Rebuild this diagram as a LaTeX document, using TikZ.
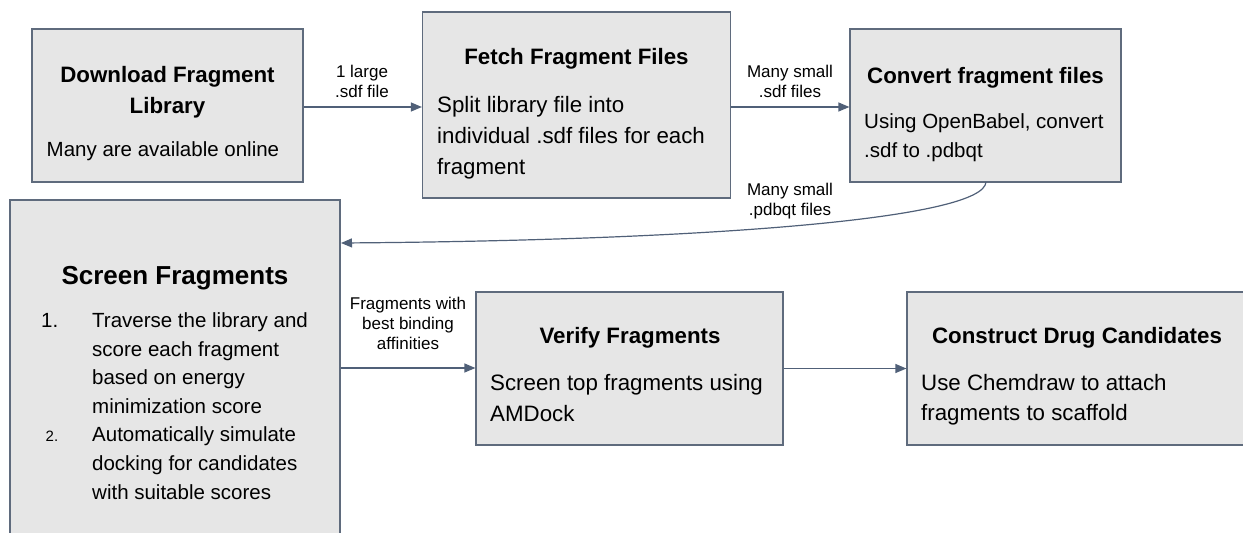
\documentclass[tikz,border=0pt]{standalone}
\usepackage{fontspec}
\setmainfont{Liberation Sans}
\usetikzlibrary{arrows.meta}
\definecolor{boxfill}{RGB}{230,230,230}
\definecolor{boxline}{RGB}{95,107,125}
\definecolor{arrline}{RGB}{80,96,120}
\tikzset{
  procbox/.style={draw=boxline, fill=boxfill, line width=1.2pt, inner sep=0pt},
  ttl/.style={anchor=base, inner sep=0pt, font=\bfseries\fontsize{22.3}{26}\selectfont},
  bodytxt/.style={anchor=base west, inner sep=0pt, font=\fontsize{20.5}{24}\selectfont},
  bigbody/.style={anchor=base west, inner sep=0pt, font=\fontsize{22.3}{26}\selectfont},
  lbl/.style={anchor=base, inner sep=0pt, font=\fontsize{17}{20}\selectfont},
  conn/.style={draw=arrline, line width=1.2pt, -{Triangle[length=11pt,width=9pt]}}
}
\begin{document}
\begin{tikzpicture}[x=1pt,y=-1pt]
\useasboundingbox (0,0) rectangle (1243,533);
\clip (0,0) rectangle (1243,533);
% boxes
\node[procbox, minimum width=271pt, minimum height=153pt] (A) at (167.5,105.5) {};
\node[procbox, minimum width=308pt, minimum height=186pt] (B) at (576.5,105) {};
\node[procbox, minimum width=271pt, minimum height=153pt] (C) at (985.5,105.5) {};
\node[procbox, minimum width=330pt, minimum height=360pt] (D) at (175,380) {};
\node[procbox, minimum width=307pt, minimum height=153pt] (E) at (629.5,368.5) {};
\node[procbox, minimum width=338pt, minimum height=153pt] (F) at (1076,368.5) {};
% box A
\node[ttl] (a1) at (167.5,82) {Download Fragment};
\node[ttl] (a2) at (167.5,113) {Library};
\node[bodytxt] (a3) at (46.5,156) {Many are available online};
% box B
\node[ttl] (b1) at (576.5,64) {Fetch Fragment Files};
\node[bigbody] (b2) at (437,112) {Split library file into};
\node[bigbody] (b3) at (437,143) {individual .sdf files for each};
\node[bigbody] (b4) at (437,174) {fragment};
% box C
\node[ttl] (c1) at (985.5,83) {Convert fragment files};
\node[bodytxt] (c2) at (864,128) {Using OpenBabel, convert};
\node[bodytxt] (c3) at (864,157) {.sdf to .pdbqt};
% box D
\node[ttl, font=\bfseries\fontsize{26}{30}\selectfont] (d0) at (175,284) {Screen Fragments};
\node[bodytxt] (d1n) at (41,327) {1.};
\node[bodytxt] (d1a) at (92,327) {Traverse the library and};
\node[bodytxt] (d1b) at (92,356) {score each fragment};
\node[bodytxt] (d1c) at (92,384) {based on energy};
\node[bodytxt] (d1d) at (92,413) {minimization score};
\node[bodytxt, font=\fontsize{15}{18}\selectfont] (d2n) at (45.5,441) {2.};
\node[bodytxt] (d2a) at (92,441) {Automatically simulate};
\node[bodytxt] (d2b) at (92,470) {docking for candidates};
\node[bodytxt] (d2c) at (92,499) {with suitable scores};
% box E
\node[ttl] (e1) at (630,343) {Verify Fragments};
\node[bigbody] (e2) at (490,390) {Screen top fragments using};
\node[bigbody] (e3) at (490,421) {AMDock};
% box F
\node[ttl] (f1) at (1077,343) {Construct Drug Candidates};
\node[bigbody] (f2) at (921,390) {Use Chemdraw to attach};
\node[bigbody] (f3) at (921,420) {fragments to scaffold};
% connectors
\coordinate (ab) at (A.east |- 0,107);
\coordinate (ba) at (B.west |- 0,107);
\coordinate (bc) at (B.east |- 0,107);
\coordinate (cb) at (C.west |- 0,107);
\coordinate (cd) at (986,182);
\coordinate (dc) at (341,243);
\coordinate (de) at (D.east |- 0,368);
\coordinate (ed) at (E.west |- 0,368);
\draw[conn] (ab) -- (ba);
\draw[conn] (bc) -- (cb);
\draw[conn] (cd) .. controls (984,218) and (720,240) .. (dc);
\draw[conn] (de) -- (ed);
\draw[conn] (E.east) -- (F.west);
% labels
\node[lbl] (l1) at (362,77) {1 large};
\node[lbl] (l2) at (362,97) {.sdf file};
\node[lbl] (l3) at (790,77) {Many small};
\node[lbl] (l4) at (790,97) {.sdf files};
\node[lbl] (l5) at (790,195) {Many small};
\node[lbl] (l6) at (790,215) {.pdbqt files};
\node[lbl] (l7) at (408,309) {Fragments with};
\node[lbl] (l8) at (408,329) {best binding};
\node[lbl] (l9) at (408,349) {affinities};
\end{tikzpicture}
\end{document}
